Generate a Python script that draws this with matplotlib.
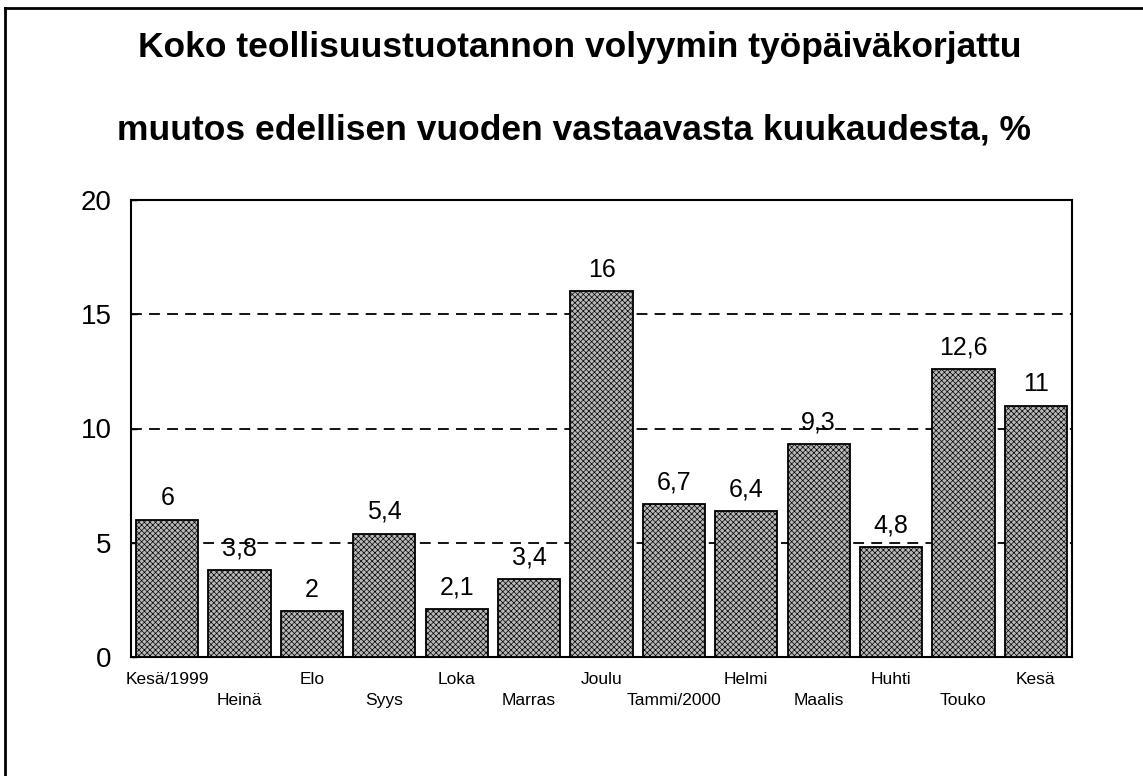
import matplotlib
matplotlib.use("Agg")
import matplotlib.pyplot as plt
from matplotlib.lines import Line2D
from matplotlib.transforms import blended_transform_factory

categories = ["Kesä/1999", "Heinä", "Elo", "Syys", "Loka", "Marras", "Joulu",
              "Tammi/2000", "Helmi", "Maalis", "Huhti", "Touko", "Kesä"]
values = [6, 3.8, 2, 5.4, 2.1, 3.4, 16, 6.7, 6.4, 9.3, 4.8, 12.6, 11]
value_labels = ["6", "3,8", "2", "5,4", "2,1", "3,4", "16", "6,7", "6,4", "9,3", "4,8", "12,6", "11"]
yticks = [0, 5, 10, 15, 20]
title_lines = ["Koko teollisuustuotannon volyymin työpäiväkorjattu",
               "muutos edellisen vuoden vastaavasta kuukaudesta, %"]

plt.rcParams['font.family'] = ['Liberation Sans', 'DejaVu Sans']
plt.rcParams['hatch.color'] = '#666666'
plt.rcParams['hatch.linewidth'] = 0.5

fig = plt.figure(figsize=(11.43, 7.76), dpi=100)
W, H = 1143, 776
ax = fig.add_axes([131 / W, 1 - 657 / H, (1072 - 131) / W, (657 - 200) / H])

x = list(range(len(categories)))
ax.bar(x, values, width=0.86, color='#b8b8b8', edgecolor='black', linewidth=1.3,
       hatch='xxxxxx', zorder=3)
ax.set_xlim(-0.5, len(categories) - 0.5)
ax.set_ylim(0, 20)
ax.set_yticks(yticks)
ax.set_yticklabels([str(t) for t in yticks], fontsize=20)
ax.tick_params(axis='y', length=4, direction='in', pad=14, width=1)
ax.set_xticks([])

for g in [5, 10, 15]:
    ax.axhline(g, color='black', linestyle=(0, (6, 4)), linewidth=1.3, zorder=1)

for s in ax.spines.values():
    s.set_linewidth(1.5)

for xi, v, lab in zip(x, values, value_labels):
    ax.annotate(lab, (xi, v), xytext=(0, 7), textcoords='offset points',
                ha='center', va='bottom', fontsize=18, zorder=4)

trans = blended_transform_factory(ax.transData, ax.transAxes)
for i, lab in enumerate(categories):
    dy = -16 if i % 2 == 0 else -31
    ax.annotate(lab, (i, 0), xycoords=trans, xytext=(0, dy), textcoords='offset points',
                ha='center', va='center', fontsize=12.5)

fig.text(580 / W, 1 - 48 / H, title_lines[0], ha='center', va='center',
         fontsize=25.5, fontweight='bold')
fig.text(574 / W, 1 - 130 / H, title_lines[1], ha='center', va='center',
         fontsize=25.5, fontweight='bold')

fig.add_artist(Line2D([5 / W, 1.0], [1 - 8 / H, 1 - 8 / H], transform=fig.transFigure,
                      color='black', linewidth=2))
fig.add_artist(Line2D([5 / W, 5 / W], [1 - 8 / H, 0.0], transform=fig.transFigure,
                      color='black', linewidth=2))

fig.savefig("out.png", dpi=100)
